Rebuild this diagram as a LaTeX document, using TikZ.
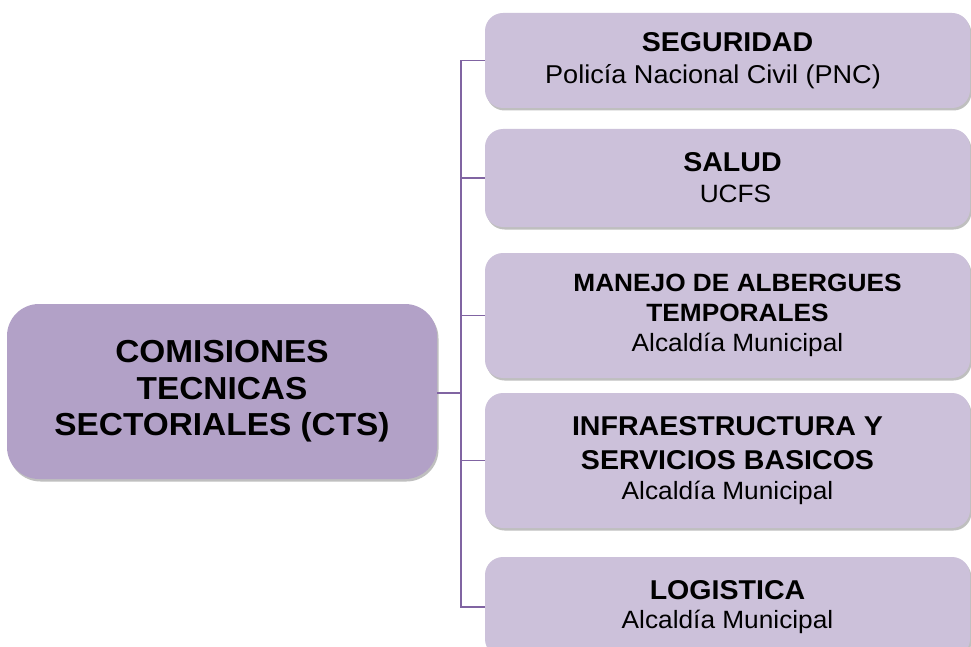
\documentclass[tikz,border=0pt]{standalone}
\usepackage{fontspec}
\setmainfont[FakeStretch=1.05]{Liberation Sans}
\usetikzlibrary{shadows}
\definecolor{mainfill}{HTML}{B2A1C7}
\definecolor{subfill}{HTML}{CCC1DA}
\definecolor{linecol}{HTML}{8064A2}
\tikzset{
  boxshadow/.style={drop shadow={shadow xshift=1.5pt, shadow yshift=-2.5pt, opacity=0.45, fill=black!55}},
  mainbox/.style={rectangle, rounded corners=32pt, fill=mainfill, boxshadow, inner sep=0pt,
    minimum width=430pt, minimum height=175pt, align=center,
    font={\fontsize{31.8}{36.5}\selectfont\bfseries}},
  subbox/.style={rectangle, rounded corners=18pt, fill=subfill, boxshadow, inner sep=0pt,
    minimum width=485pt, align=center, font={\fontsize{25}{31}\selectfont}},
  conn/.style={draw=linecol, line width=1.3pt}
}
\newcommand{\ttl}[1]{{\fontsize{27.2}{31}\selectfont\bfseries #1}}
\newcommand{\mttl}[1]{{\fontsize{25}{30}\selectfont\bfseries #1}}
\begin{document}
\begin{tikzpicture}[x=1pt,y=-1pt]
\clip (0,0) rectangle (971,647);
\fill[white] (0,0) rectangle (971,647);
\node[mainbox] (L) at (222,391.5) {COMISIONES\\TECNICAS\\SECTORIALES (CTS)};
\node[subbox, minimum height=95pt] (b1) at (727.5,60.5) {\ttl{SEGURIDAD}\\[1pt]{\fontsize{25.8}{31}\selectfont Policía Nacional Civil (PNC)}\hspace*{29pt}};
\node[subbox, minimum height=98pt] (b2) at (727.5,178) {\hspace*{10pt}\ttl{SALUD}\\\hspace*{16pt}UCFS};
\node[subbox, minimum height=125pt] (b3) at (727.5,315.5) {\hspace*{20pt}\mttl{MANEJO DE ALBERGUES}\\[-1pt]\hspace*{20pt}\mttl{TEMPORALES}\\[-1pt]\hspace*{20pt}Alcaldía Municipal};
\node[subbox, minimum height=135pt] (b4) at (727.5,460.5) {\ttl{INFRAESTRUCTURA Y}\\[3pt]\ttl{SERVICIOS BASICOS}\\[-1pt]Alcaldía Municipal};
\node[subbox, minimum height=100pt] (b5) at (727.5,607) {\ttl{LOGISTICA}\\[-2pt]Alcaldía Municipal};
\coordinate (bus) at (461,393);
\draw[conn] (L.east |- bus) -- (bus);
\draw[conn] (b1.west) -| (bus);
\draw[conn] (b2.west) -| (bus);
\draw[conn] (b3.west) -| (bus);
\draw[conn] (b4.west) -| (bus);
\draw[conn] (b5.west) -| (bus);
\end{tikzpicture}
\end{document}
